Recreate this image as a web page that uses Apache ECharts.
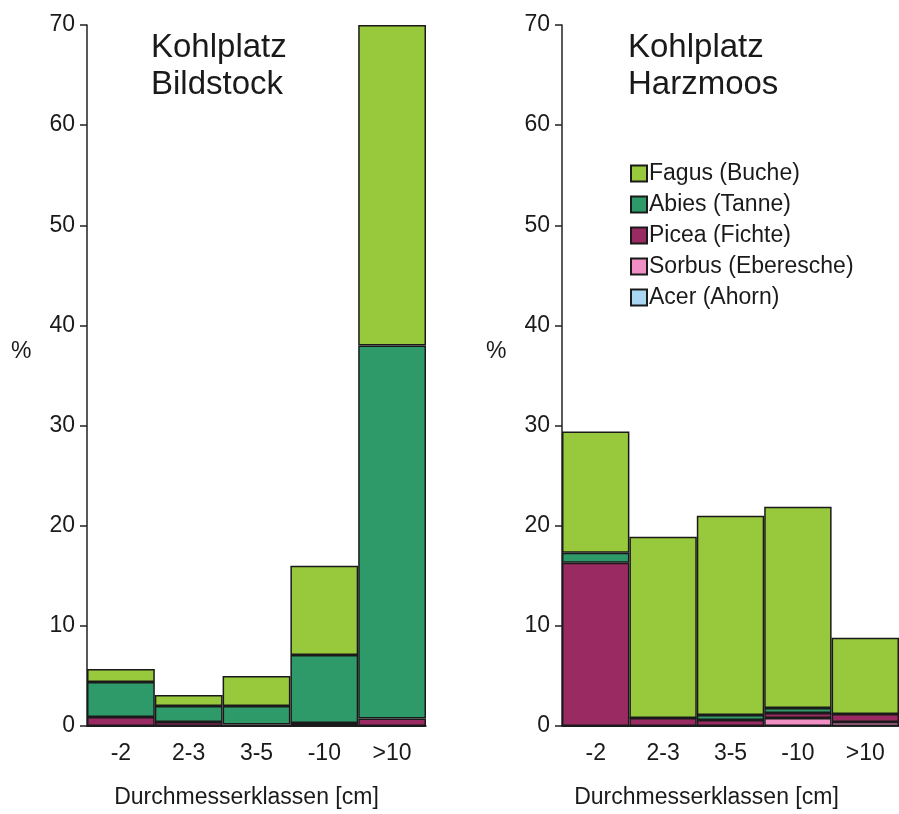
<!DOCTYPE html>
<html>
<head>
<meta charset="utf-8">
<script src="https://cdn.jsdelivr.net/npm/echarts@6/dist/echarts.min.js"></script>
<style>
  html, body { margin: 0; padding: 0; background: #fff; }
  #chart { width: 899px; height: 814px; }
</style>
</head>
<body>
<div id="chart"></div>
<script>
// Durchmesserklassen
var categories = ['-2', '2-3', '3-5', '-10', '>10'];
var yTicks = [0, 10, 20, 30, 40, 50, 60, 70];

// Kohlplatz Bildstock (links)
var bildFagus  = [1.3, 1.1, 3.0, 8.9, 32.0];
var bildAbies  = [3.5, 1.6, 1.85, 6.8, 37.25];
var bildPicea  = [0.9, 0.4, 0.15, 0.3, 0.75];
var bildSorbus = [0, 0, 0, 0, 0];
var bildAcer   = [0, 0, 0, 0, 0];

// Kohlplatz Harzmoos (rechts)
var harzFagus  = [12.1, 18.1, 19.9, 20.1, 7.6];
var harzAbies  = [1.0, 0, 0.5, 0.5, 0];
var harzPicea  = [16.3, 0.8, 0.6, 0.5, 0.8];
var harzSorbus = [0, 0, 0, 0.8, 0.4];
var harzAcer   = [0, 0, 0, 0, 0];

var names = ['Fagus (Buche)', 'Abies (Tanne)', 'Picea (Fichte)', 'Sorbus (Eberesche)', 'Acer (Ahorn)'];
var colors = {
  'Fagus (Buche)': '#98c83c',
  'Abies (Tanne)': '#2f9a69',
  'Picea (Fichte)': '#9a2b62',
  'Sorbus (Eberesche)': '#f08fc3',
  'Acer (Ahorn)': '#a9d7f2'
};

var chartDom = document.getElementById('chart');
var myChart = echarts.init(chartDom);
var font = '"Liberation Sans", Arial, sans-serif';
var textColor = '#1a1a1a';

function makeX(gridIndex, namePad) {
  return {
    type: 'category',
    gridIndex: gridIndex,
    data: categories,
    axisLine: { show: true, lineStyle: { color: '#222', width: 1.5 } },
    axisTick: { show: false },
    axisLabel: { color: textColor, fontFamily: font, fontSize: 23, margin: 16 },
    name: 'Durchmesserklassen [cm]',
    nameLocation: 'middle',
    nameGap: 60,
    nameTextStyle: { color: textColor, fontFamily: font, fontSize: 23, padding: namePad }
  };
}

function makeY(gridIndex) {
  return {
    type: 'value',
    gridIndex: gridIndex,
    min: 0,
    max: 70,
    interval: 10,
    splitLine: { show: false },
    axisLine: { show: true, lineStyle: { color: '#222', width: 1.5 } },
    axisTick: { show: true, length: 7, lineStyle: { color: '#222', width: 1.5 } },
    axisLabel: { color: textColor, fontFamily: font, fontSize: 23, margin: 12 }
  };
}

// stapeln von unten nach oben: Acer, Sorbus, Picea, Abies, Fagus
function makeSeries(idx, stack, data) {
  var order = ['Acer (Ahorn)', 'Sorbus (Eberesche)', 'Picea (Fichte)', 'Abies (Tanne)', 'Fagus (Buche)'];
  return order.map(function (n) {
    return {
      name: n,
      type: 'bar',
      stack: stack,
      xAxisIndex: idx,
      yAxisIndex: idx,
      barCategoryGap: '0%',
      data: data[n],
      itemStyle: { color: colors[n], borderColor: '#1a1a1a', borderWidth: 1.5 }
    };
  });
}

var leftSeries = makeSeries(0, 'L', {
  'Fagus (Buche)': bildFagus,
  'Abies (Tanne)': bildAbies,
  'Picea (Fichte)': bildPicea,
  'Sorbus (Eberesche)': bildSorbus,
  'Acer (Ahorn)': bildAcer
});
var rightSeries = makeSeries(1, 'R', {
  'Fagus (Buche)': harzFagus,
  'Abies (Tanne)': harzAbies,
  'Picea (Fichte)': harzPicea,
  'Sorbus (Eberesche)': harzSorbus,
  'Acer (Ahorn)': harzAcer
});

var option = {
  animation: false,
  backgroundColor: '#fff',
  textStyle: { fontFamily: font },
  title: [
    {
      text: 'Kohlplatz\nBildstock',
      left: 146, top: 24,
      textStyle: { color: textColor, fontFamily: font, fontSize: 33, fontWeight: 'normal', lineHeight: 37 }
    },
    {
      text: 'Kohlplatz\nHarzmoos',
      left: 623, top: 24,
      textStyle: { color: textColor, fontFamily: font, fontSize: 33, fontWeight: 'normal', lineHeight: 37 }
    }
  ],
  legend: {
    data: names,
    orient: 'vertical',
    left: 625,
    top: 157,
    icon: 'rect',
    itemWidth: 16,
    itemHeight: 16,
    itemGap: 8,
    textStyle: { color: textColor, fontFamily: font, fontSize: 23, lineHeight: 21, padding: [0, 0, 0, -3] }
  },
  grid: [
    { left: 87, width: 339, top: 25, bottom: 86.5 },
    { left: 562, width: 337, top: 25, bottom: 86.5 }
  ],
  xAxis: [makeX(0, [0, 20, 0, 0]), makeX(1, [0, 48, 0, 0])],
  yAxis: [makeY(0), makeY(1)],
  graphic: [
    { type: 'text', left: 11, top: 340, style: { text: '%', fill: textColor, font: '23px "Liberation Sans", Arial, sans-serif' } },
    { type: 'text', left: 486, top: 340, style: { text: '%', fill: textColor, font: '23px "Liberation Sans", Arial, sans-serif' } }
  ],
  series: leftSeries.concat(rightSeries)
};

option && myChart.setOption(option);
</script>
</body>
</html>
